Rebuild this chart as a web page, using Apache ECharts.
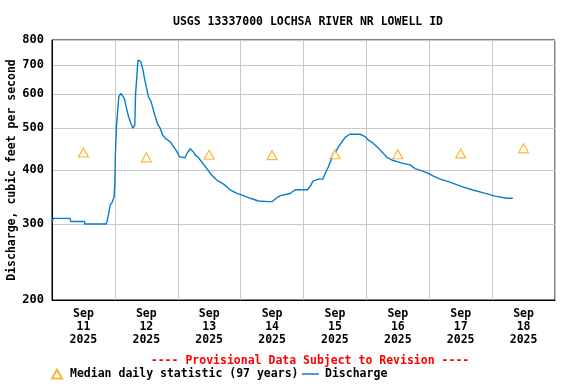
<!DOCTYPE html>
<html>
<head>
<meta charset="utf-8">
<script src="https://cdn.jsdelivr.net/npm/echarts@6/dist/echarts.min.js"></script>
<style>html,body{margin:0;padding:0;background:#fff}#c{width:576px;height:384px}</style>
</head>
<body>
<div id="c"></div>
<script>
// Hours since 2025-09-11 00:00
const dischargeHours = [0,0.6,6.9,7.1,12.4,12.5,20.7,21.0,21.6,22.2,22.9,23.7,24.0,24.2,24.6,25.0,25.5,26.3,26.9,27.6,28.3,29.2,30.1,30.9,31.3,31.6,31.9,32.4,32.8,33.4,33.9,34.7,35.3,36.0,36.8,37.8,38.5,39.4,40.3,41.3,42.2,43.2,45.1,46.4,47.7,48.7,50.8,51.5,52.8,54.0,54.7,55.9,56.6,59.1,61.0,62.9,65.5,68.0,70.6,73.1,75.7,78.8,82.6,83.3,84.1,85.6,87.1,90.9,92.8,97.5,98.6,99.6,101.7,103.4,104.3,105.5,106.8,108.1,109.4,110.7,111.9,113.6,117.6,119.5,120.8,122.7,124.6,126.5,127.8,129.7,133.6,136.7,138.6,141.2,143.7,145.6,148.2,151.3,153.9,157.1,160.3,165.4,169.2,173.6,175.9];
const dischargeCfs = [304,309,309,304,304,300,300,304,316,332,336,347,373,437,504,541,591,602,600,586,561,532,513,500,496,508,602,658,719,721,713,682,652,624,591,576,556,532,511,500,482,474,465,453,441,429,427,437,448,440,433,427,422,403,389,379,371,360,353,349,344,339,338,336,338,344,349,353,360,360,367,377,381,381,393,407,426,439,453,465,476,484,484,478,469,461,449,437,428,422,415,411,403,398,393,387,381,376,371,365,360,353,348,344,344];
const medianHours = [12,36,60,84,108,132,156,180];
const medianCfs = [439,428,434,433,435,435,437,449];
const dayLabels = ['Sep\n11\n2025','Sep\n12\n2025','Sep\n13\n2025','Sep\n14\n2025','Sep\n15\n2025','Sep\n16\n2025','Sep\n17\n2025','Sep\n18\n2025'];
const yTicks = [200,300,400,500,600,700,800];

const font = 'DejaVu Sans Mono';
const chart = echarts.init(document.getElementById('c'), null, {renderer:'canvas'});
chart.setOption({
  animation:false,
  title:[
    {text:'USGS 13337000 LOCHSA RIVER NR LOWELL ID', left:303, top:11, textAlign:'center',
     textStyle:{fontFamily:font, fontSize:11.5, fontWeight:'bold', color:'#000'}},
    {text:'---- Provisional Data Subject to Revision ----', left:305, top:350, textAlign:'center',
     textStyle:{fontFamily:font, fontSize:11.5, fontWeight:'bold', color:'#FF0000'}}
  ],
  legend:[
    {data:[{name:'Median daily statistic (97 years)', icon:'triangle'}], left:46, top:363, itemWidth:10, itemHeight:9,
     textStyle:{fontFamily:font, fontSize:11.5, fontWeight:'bold', color:'#000', padding:[0,0,0,3]}},
    {data:[{name:'Discharge', icon:'rect'}], left:297, top:363, itemWidth:17, itemHeight:1.5,
     textStyle:{fontFamily:font, fontSize:11.5, fontWeight:'bold', color:'#000', padding:[0,0,0,1]}}
  ],
  grid:{left:52, right:21, top:40, bottom:84, containLabel:false, outerBoundsMode:'none',
    show:true, borderColor:'#000', borderWidth:1, backgroundColor:'transparent'},
  xAxis:{type:'value', min:0, max:192, interval:24,
    axisLine:{show:true, lineStyle:{color:'#000'}}, axisTick:{show:false},
    splitLine:{show:true, lineStyle:{color:'#c8c8c8', width:1}},
    axisLabel:{customValues:medianHours, formatter:v=>dayLabels[Math.round((v-12)/24)],
      fontFamily:font, fontSize:11.5, fontWeight:'bold', color:'#000', lineHeight:13, margin:8}},
  yAxis:{type:'log', logBase:10, min:200, max:800,
    name:'Discharge, cubic feet per second', nameLocation:'middle', nameGap:34, nameMoveOverlap:false,
    nameTextStyle:{fontFamily:font, fontSize:11.5, fontWeight:'bold', color:'#000'},
    axisLine:{show:true, lineStyle:{color:'#000'}},
    axisTick:{show:false, customValues:yTicks},
    splitLine:{show:true, lineStyle:{color:'#c8c8c8', width:1}},
    axisLabel:{customValues:yTicks, formatter:v=>String(Math.round(v)), fontFamily:font, fontSize:12, fontWeight:'bold', color:'#000', margin:8}},
  series:[
    {name:'Median daily statistic (97 years)', type:'scatter', symbol:'triangle', symbolSize:[10,9],
     itemStyle:{color:'#fff', borderColor:'#FFA500', borderWidth:1.2},
     data:medianHours.map((h,i)=>[h, medianCfs[i]]), z:3},
    {name:'Discharge', type:'line', showSymbol:false, symbol:'none',
     lineStyle:{color:'#0A7CCB', width:1.4}, itemStyle:{color:'#0A7CCB'},
     data:dischargeHours.map((h,i)=>[h, dischargeCfs[i]]), z:2}
  ]
});
</script>
</body>
</html>
